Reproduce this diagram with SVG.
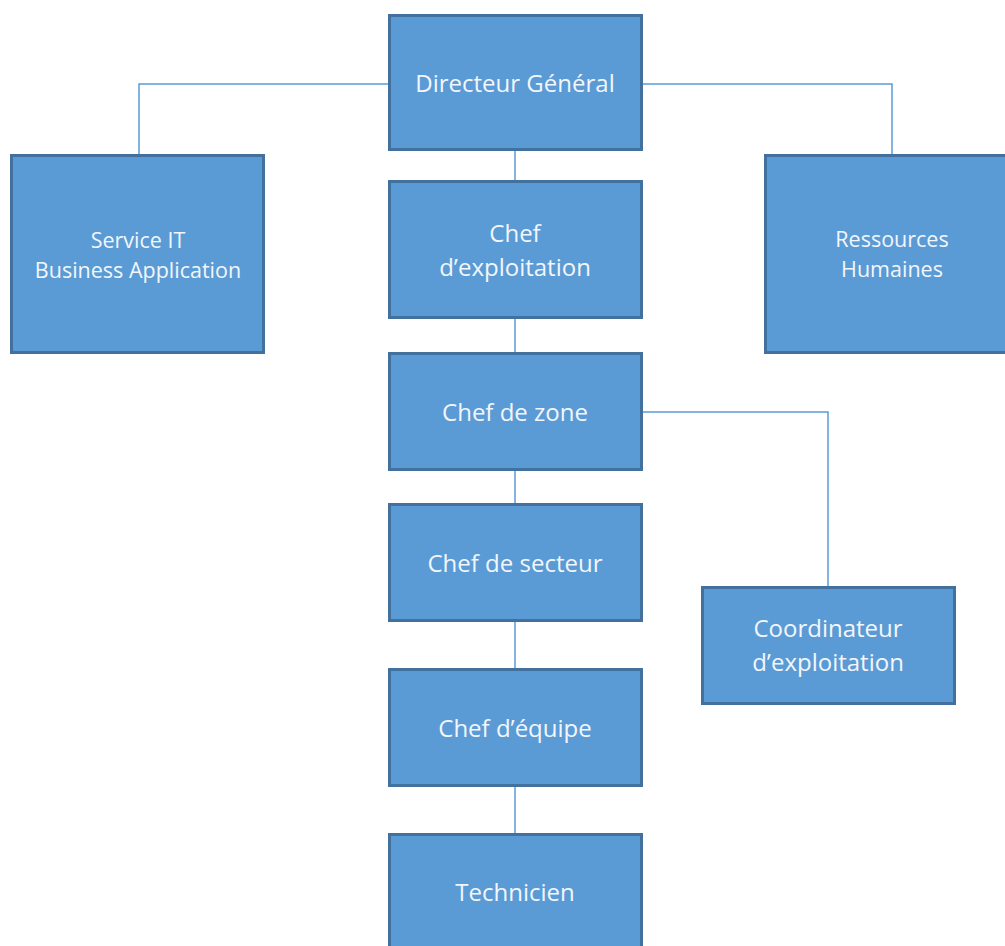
<svg xmlns="http://www.w3.org/2000/svg" width="1005" height="946" viewBox="0 0 1005 946">
<style>
.box{fill:#5b9bd5;stroke:#41719c;stroke-width:3}
.t{font-family:"Open Sans","Liberation Sans",sans-serif;font-size:24px;fill:#f2f6fb;text-anchor:middle}
.s{font-size:21.5px}
.con{fill:none;stroke:#5b9bd5;stroke-width:1.5}
</style>
<rect width="1005" height="946" fill="#ffffff"/>
<g id="connectors">
<path class="con" d="M389 84H139V154"/>
<path class="con" d="M642 84H892V154"/>
<path class="con" d="M515 150V180"/>
<path class="con" d="M515 318V352"/>
<path class="con" d="M515 470V503"/>
<path class="con" d="M515 621V668"/>
<path class="con" d="M515 786V833"/>
<path class="con" d="M642 412H828V586"/>
</g>
<g id="dg"><rect class="box" x="389.5" y="15.5" width="252" height="134"/><text class="t" x="515" y="92">Directeur Général</text></g>
<g id="it"><rect class="box" x="11.5" y="155.5" width="252" height="197"/><text class="t s" x="138" y="248">Service IT</text><text class="t s" x="138" y="278">Business Application</text></g>
<g id="rh"><rect class="box" x="765.5" y="155.5" width="252" height="197"/><text class="t s" x="892" y="247">Ressources</text><text class="t s" x="892" y="277">Humaines</text></g>
<g id="chef-exploitation"><rect class="box" x="389.5" y="181.5" width="252" height="136"/><text class="t" x="515" y="242">Chef</text><text class="t" x="515" y="276">d’exploitation</text></g>
<g id="chef-zone"><rect class="box" x="389.5" y="353.5" width="252" height="116"/><text class="t" x="515" y="421">Chef de zone</text></g>
<g id="chef-secteur"><rect class="box" x="389.5" y="504.5" width="252" height="116"/><text class="t" x="515" y="572">Chef de secteur</text></g>
<g id="chef-equipe"><rect class="box" x="389.5" y="669.5" width="252" height="116"/><text class="t" x="515" y="737">Chef d’équipe</text></g>
<g id="technicien"><rect class="box" x="389.5" y="834.5" width="252" height="130"/><text class="t" x="515" y="901">Technicien</text></g>
<g id="coordinateur"><rect class="box" x="702.5" y="587.5" width="252" height="116"/><text class="t" x="828" y="637">Coordinateur</text><text class="t" x="828" y="671">d’exploitation</text></g>
</svg>
